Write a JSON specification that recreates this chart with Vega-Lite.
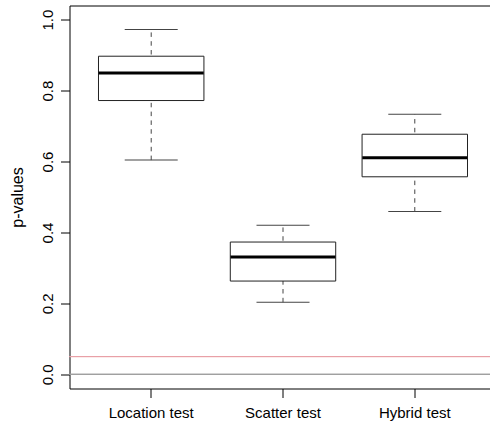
{
  "$schema": "https://vega.github.io/schema/vega-lite/v6.json",
  "width": 427,
  "height": 383,
  "autosize": {"type": "none"},
  "padding": {"left": 69.5, "top": 5.5, "right": 0, "bottom": 34.5},
  "background": "white",
  "config": {
    "view": {"stroke": "black", "strokeWidth": 1},
    "font": "Liberation Sans",
    "axis": {"labelFont": "Liberation Sans", "titleFont": "Liberation Sans", "labelColor": "black", "titleColor": "black", "tickColor": "black", "domain": false, "grid": false, "labelFontSize": 15, "titleFontSize": 16, "titleFontWeight": "normal", "tickSize": 9}
  },
  "data": {
    "values": [
      {"test": "Location test", "lower": 0.604, "q1": 0.772, "median": 0.850, "q3": 0.897, "upper": 0.972},
      {"test": "Scatter test", "lower": 0.203, "q1": 0.263, "median": 0.331, "q3": 0.373, "upper": 0.420},
      {"test": "Hybrid test", "lower": 0.459, "q1": 0.557, "median": 0.611, "q3": 0.677, "upper": 0.733}
    ]
  },
  "encoding": {
    "x": {
      "field": "test", "type": "nominal", "sort": null,
      "scale": {"paddingInner": 0, "paddingOuter": 0.12},
      "axis": {"title": null, "labelAngle": 0, "labelBaseline": "alphabetic", "labelPadding": 20}
    }
  },
  "layer": [
    {
      "mark": {"type": "rule", "color": "#a0a0a0", "strokeWidth": 1},
      "encoding": {"x": null, "y": {"datum": 0, "type": "quantitative", "scale": {"domain": [-0.04, 1.04], "nice": false, "zero": false}, "axis": {"title": "p-values", "values": [0, 0.2, 0.4, 0.6, 0.8, 1.0], "format": ".1f", "labelAngle": -90, "labelAlign": "center", "labelBaseline": "alphabetic", "labelPadding": 8, "titlePadding": 15}}}
    },
    {
      "mark": {"type": "rule", "color": "#e8a0a8", "strokeWidth": 1},
      "encoding": {"x": null, "y": {"datum": 0.05, "type": "quantitative"}}
    },
    {
      "mark": {"type": "rule", "color": "#444444", "strokeWidth": 1, "strokeDash": [4.5, 4.3]},
      "encoding": {"y": {"field": "lower", "type": "quantitative"}, "y2": {"field": "upper"}}
    },
    {
      "mark": {"type": "tick", "color": "#444444", "opacity": 1, "size": 53, "thickness": 1, "orient": "horizontal"},
      "encoding": {"y": {"field": "lower", "type": "quantitative"}}
    },
    {
      "mark": {"type": "tick", "color": "#444444", "opacity": 1, "size": 53, "thickness": 1, "orient": "horizontal"},
      "encoding": {"y": {"field": "upper", "type": "quantitative"}}
    },
    {
      "mark": {"type": "bar", "fill": "white", "stroke": "#222222", "strokeWidth": 1, "width": {"band": 0.8}},
      "encoding": {"y": {"field": "q1", "type": "quantitative"}, "y2": {"field": "q3"}}
    },
    {
      "mark": {"type": "tick", "color": "black", "opacity": 1, "size": 105, "thickness": 3, "orient": "horizontal"},
      "encoding": {"y": {"field": "median", "type": "quantitative"}}
    }
  ]
}
